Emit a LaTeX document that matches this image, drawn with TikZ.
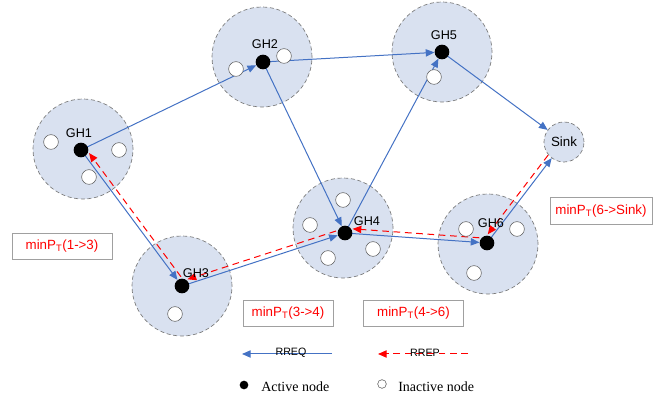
\documentclass[tikz,border=0pt]{standalone}
\usepackage{fontspec}
\setmainfont{Liberation Serif}
\setsansfont{Liberation Sans}
\usetikzlibrary{arrows.meta,calc}
\definecolor{clusterfill}{RGB}{217,225,240}
\definecolor{reqblue}{RGB}{68,114,196}
\definecolor{repred}{RGB}{255,0,0}
\definecolor{rimgray}{RGB}{120,120,120}
\definecolor{boxgray}{RGB}{160,160,160}
\pgfdeclarelayer{bg}
\pgfdeclarelayer{mid}
\pgfsetlayers{bg,mid,main}

\begin{document}
\begin{tikzpicture}[x=0.75pt,y=-0.75pt,
  cluster/.style={circle,fill=clusterfill,draw=rimgray,densely dashed,line width=0.5pt,minimum size=75pt,inner sep=0pt},
  sinkstyle/.style={circle,fill=clusterfill,draw=rimgray,densely dashed,line width=0.5pt,minimum size=30pt,inner sep=0pt,font=\sffamily\fontsize{10}{12}\selectfont},
  active/.style={circle,fill=black,minimum size=11pt,inner sep=0pt},
  inactive/.style={circle,fill=white,draw=black!65,line width=0.4pt,minimum size=11pt,inner sep=0pt},
  ghlabel/.style={font=\sffamily\fontsize{9.5}{11}\selectfont,inner sep=0pt},
  req/.style={draw=reqblue,line width=0.75pt,-{Triangle[length=6.5pt,width=5.5pt]}},
  rep/.style={draw=repred,line width=0.75pt,dash pattern=on 5pt off 3.5pt,-{Triangle[length=6.5pt,width=5.5pt]}},
  costbox/.style={draw=boxgray,fill=white,line width=0.5pt,text=repred,font=\sffamily\fontsize{10}{12}\selectfont,minimum height=20pt,inner sep=0pt},
  legendtext/.style={font=\fontsize{10.5}{12}\selectfont,anchor=west,inner sep=0pt},
  legendtag/.style={font=\sffamily\fontsize{8}{9}\selectfont,inner sep=0pt},
]
\useasboundingbox (0,0) rectangle (653,398);

% cluster areas
\begin{pgfonlayer}{bg}
  \node[cluster] (c1) at (83,149) {};
  \node[cluster] (c2) at (262,57) {};
  \node[cluster] (c5) at (442,52) {};
  \node[cluster] (c3) at (182,286) {};
  \node[cluster] (c4) at (343,228) {};
  \node[cluster] (c6) at (488,244) {};
\end{pgfonlayer}
\node[sinkstyle] (sink) at (564,142) {Sink};

% cluster heads
\node[active] (a1) at (81,150) {};
\node[active] (a2) at (263,62) {};
\node[active] (a5) at (442,52) {};
\node[active] (a3) at (182,286) {};
\node[active] (a4) at (345,233) {};
\node[active] (a6) at (487,243) {};

\node[ghlabel] (l1) at (79,133) {GH1};
\node[ghlabel] (l2) at (265,44) {GH2};
\node[ghlabel] (l5) at (444,35) {GH5};
\node[ghlabel] (l3) at (196,273) {GH3};
\node[ghlabel] (l4) at (367,221) {GH4};
\node[ghlabel] (l6) at (491,223) {GH6};

% ordinary members
\node[inactive] (m11) at (51,142) {};
\node[inactive] (m12) at (119,150) {};
\node[inactive] (m13) at (89,177) {};
\node[inactive] (m21) at (236,69) {};
\node[inactive] (m22) at (284,56) {};
\node[inactive] (m51) at (434,77) {};
\node[inactive] (m31) at (175,314) {};
\node[inactive] (m41) at (343,200) {};
\node[inactive] (m42) at (310,225) {};
\node[inactive] (m43) at (373,249) {};
\node[inactive] (m44) at (328,258) {};
\node[inactive] (m61) at (466,229) {};
\node[inactive] (m62) at (517,229) {};
\node[inactive] (m63) at (474,273) {};

% route requests and replies
\begin{pgfonlayer}{mid}
  \draw[req] (a1.center) -- (a2);
  \draw[req] (a2.center) -- (a5);
  \draw[req] (a2.center) -- (a4);
  \draw[req] (a4.center) -- (a5);
  \draw[req] (a5.center) -- (sink);
  \draw[req] (a1.center) -- (a3);
  \draw[req] (a3.center) -- (a4);
  \draw[req] (a4.center) -- (a6);
  \draw[req] (a6.center) -- (sink);

  \draw[rep,shorten <=15pt,shorten >=5.5pt] ($(sink)!3.5pt!-90:(a6)$) -- ($(a6)!3.5pt!90:(sink)$);
  \draw[rep,shorten <=6pt,shorten >=5.5pt] ($(a6)!3.5pt!-90:(a4)$) -- ($(a4)!3.5pt!90:(a6)$);
  \draw[rep,shorten <=6pt,shorten >=5.5pt] ($(a4)!3.5pt!-90:(a3)$) -- ($(a3)!3.5pt!90:(a4)$);
  \draw[rep,shorten <=6pt,shorten >=5.5pt] ($(a3)!3.5pt!-90:(a1)$) -- ($(a1)!3.5pt!90:(a3)$);
\end{pgfonlayer}

% transmission power labels
\node[costbox,minimum width=75pt] (p13) at (62,246.5) {minP\textsubscript{T}(1->3)};
\node[costbox,minimum width=67.5pt] (p34) at (288,313.5) {minP\textsubscript{T}(3->4)};
\node[costbox,minimum width=75pt] (p46) at (413.5,313.5) {minP\textsubscript{T}(4->6)};
\node[costbox,minimum width=76.5pt] (p6s) at (601,211) {minP\textsubscript{T}(6->Sink)};

% legend
\coordinate (q0) at (242,354);
\coordinate (q1) at (332,354);
\draw[req] (q1) -- (q0);
\node[legendtag] (qt) at (291,352.5) {RREQ};
\coordinate (r0) at (378,354);
\coordinate (r1) at (468,354);
\draw[rep] (r1) -- (r0);
\node[legendtag] (rt) at (425,352.5) {RREP};

\node[active,minimum size=6.5pt] (ka) at (244,385) {};
\node[legendtext] (kat) at (261,387) {Active node};
\node[inactive,minimum size=6.5pt] (ki) at (382,384) {};
\node[legendtext] (kit) at (398,387) {Inactive node};
\end{tikzpicture}
\end{document}
